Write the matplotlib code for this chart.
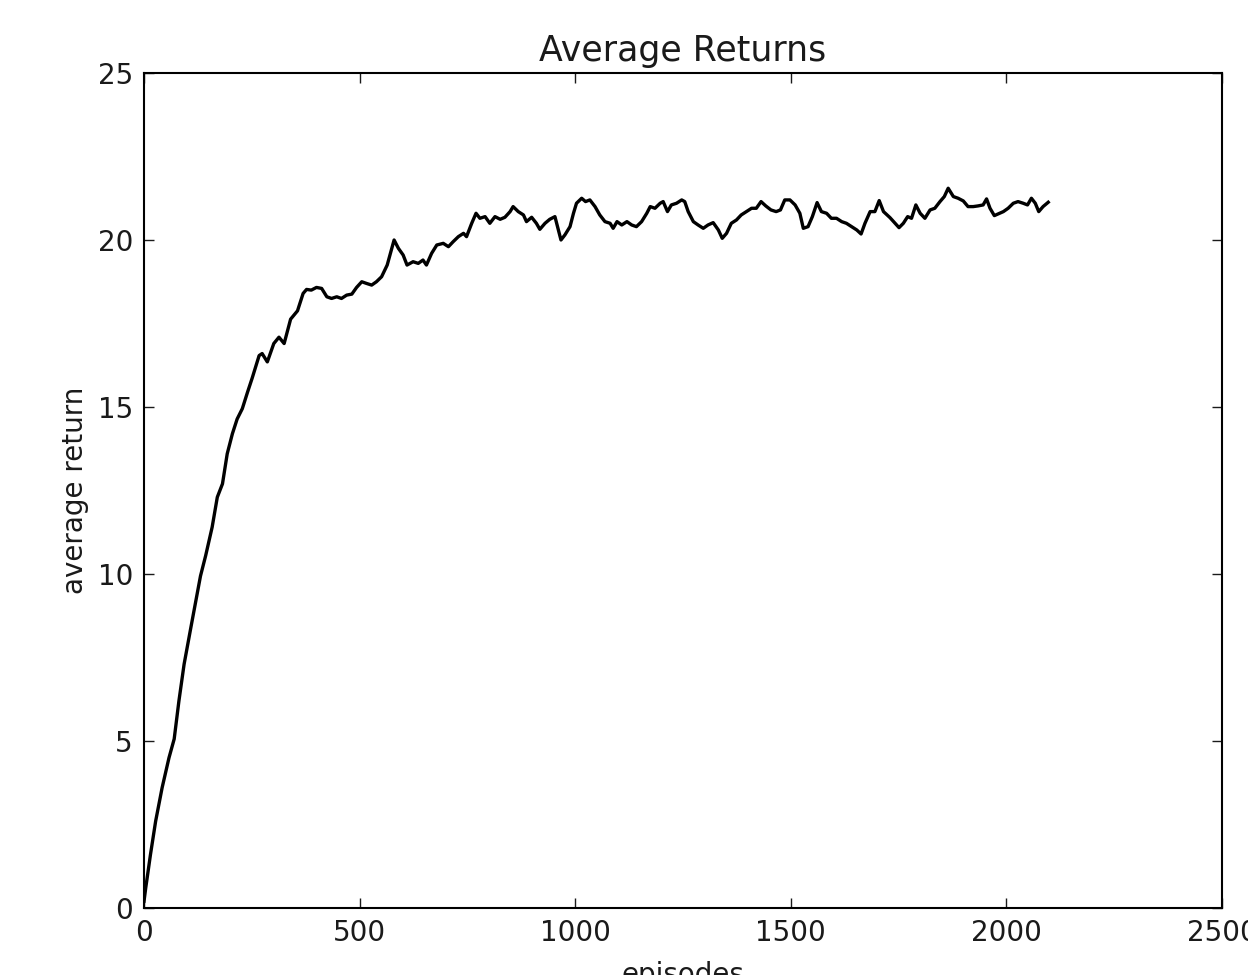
import matplotlib
matplotlib.use("Agg")
import matplotlib.pyplot as plt

# values (episode, average return)
episodes = [0, 4, 15, 27, 42, 58, 70, 81, 93, 108, 124, 131, 143, 158, 170, 182,
            193, 205, 216, 228, 240, 251, 267, 274, 286, 301, 313, 325, 340, 356,
            369, 377, 388, 400, 412, 424, 435, 447, 458, 470, 482, 493, 505, 516,
            528, 539, 551, 564, 580, 590, 601, 610, 624, 636, 647, 655, 667, 679,
            694, 706, 717, 729, 741, 748, 760, 770, 779, 791, 802,
            814, 826, 837, 849, 856, 868, 880, 887, 899, 910, 918, 930, 941, 953,
            961, 967, 976, 988, 996, 1003, 1015, 1024, 1034, 1046, 1057, 1069,
            1081, 1088, 1097, 1108, 1120, 1131, 1142, 1154, 1166, 1174, 1185,
            1197, 1204, 1214, 1223, 1235, 1247, 1254, 1262,
            1274, 1285, 1297, 1308, 1320, 1332, 1341, 1351, 1362, 1374, 1385,
            1397, 1409, 1420, 1431, 1442, 1454, 1466, 1476, 1486, 1498, 1510,
            1521, 1529, 1540, 1550, 1561, 1571, 1583, 1594, 1606, 1618, 1629,
            1641, 1653, 1663, 1672, 1684, 1695, 1705, 1715,
            1730, 1742, 1751, 1761, 1771, 1780, 1790, 1800, 1811, 1823, 1834,
            1846, 1856, 1865, 1877, 1888, 1900, 1911, 1923, 1934, 1946, 1954,
            1962, 1972, 1981, 1993, 2004, 2016, 2027, 2039, 2049, 2058, 2067,
            2075, 2085, 2097]
avg_return = [0.2, 0.6, 1.6, 2.6, 3.6, 4.5, 5.06, 6.2, 7.3, 8.35, 9.45, 9.94,
              10.55, 11.4, 12.3, 12.7, 13.6, 14.2, 14.64, 14.95, 15.44, 15.87,
              16.54, 16.6, 16.35, 16.9, 17.09, 16.9, 17.63, 17.88,
              18.4, 18.52, 18.5, 18.58, 18.55, 18.3, 18.25, 18.3, 18.25, 18.35,
              18.38, 18.58, 18.75, 18.7, 18.65, 18.75, 18.9, 19.25, 20.0, 19.75,
              19.55, 19.25, 19.35, 19.3, 19.4, 19.25, 19.6, 19.85, 19.9, 19.8,
              19.95, 20.1, 20.2, 20.1, 20.5, 20.8, 20.65, 20.7, 20.5,
              20.7, 20.62, 20.68, 20.85, 21.0, 20.85, 20.75, 20.55, 20.68, 20.5,
              20.32, 20.5, 20.62, 20.7, 20.3, 20.0, 20.15, 20.4, 20.8, 21.1,
              21.25, 21.15, 21.2, 21.0, 20.75, 20.55, 20.5, 20.35, 20.55, 20.45,
              20.55, 20.45, 20.4, 20.55, 20.8, 21.0, 20.95, 21.1, 21.15, 20.85,
              21.05, 21.1, 21.2, 21.15, 20.85,
              20.55, 20.45, 20.35, 20.45, 20.52, 20.3, 20.05, 20.2, 20.5, 20.6,
              20.75, 20.85, 20.95, 20.95, 21.15, 21.02, 20.9, 20.85, 20.9, 21.2,
              21.2, 21.05, 20.8, 20.35, 20.4, 20.7, 21.12, 20.85, 20.8, 20.65,
              20.65, 20.55, 20.5, 20.4, 20.3, 20.18, 20.5, 20.85, 20.85, 21.18,
              20.85,
              20.67, 20.5, 20.37, 20.5, 20.7, 20.65, 21.05, 20.8, 20.65, 20.9,
              20.95, 21.15, 21.3, 21.55, 21.3, 21.25, 21.17, 21.0, 21.0, 21.02,
              21.05, 21.23, 20.95, 20.73, 20.78, 20.85, 20.95, 21.1, 21.15, 21.1,
              21.05, 21.25, 21.1, 20.85, 21.0, 21.13]

plt.rcParams['font.family'] = ['DejaVu Sans']

fig = plt.figure(figsize=(12.48, 9.75), dpi=100)
ax = fig.add_axes([144 / 1248, 67 / 975, 1078 / 1248, 835 / 975])

ax.plot(episodes, avg_return, color='black', linewidth=2.4)

ax.set_xlim(0, 2500)
ax.set_ylim(0, 25)
ax.set_xticks([0, 500, 1000, 1500, 2000, 2500])
ax.set_yticks([0, 5, 10, 15, 20, 25])

ax.tick_params(direction='in', length=7, width=1, top=True, right=True,
               labelsize=20, pad=8, colors='#1a1a1a')
for s in ax.spines.values():
    s.set_linewidth(1.5)

ax.set_title('Average Returns', fontsize=25, pad=9, color='#1a1a1a')
ax.set_xlabel('episodes', fontsize=20, labelpad=10, color='#1a1a1a')
ax.set_ylabel('average return', fontsize=20, labelpad=6, color='#1a1a1a')

fig.savefig('out.png', dpi=100)
